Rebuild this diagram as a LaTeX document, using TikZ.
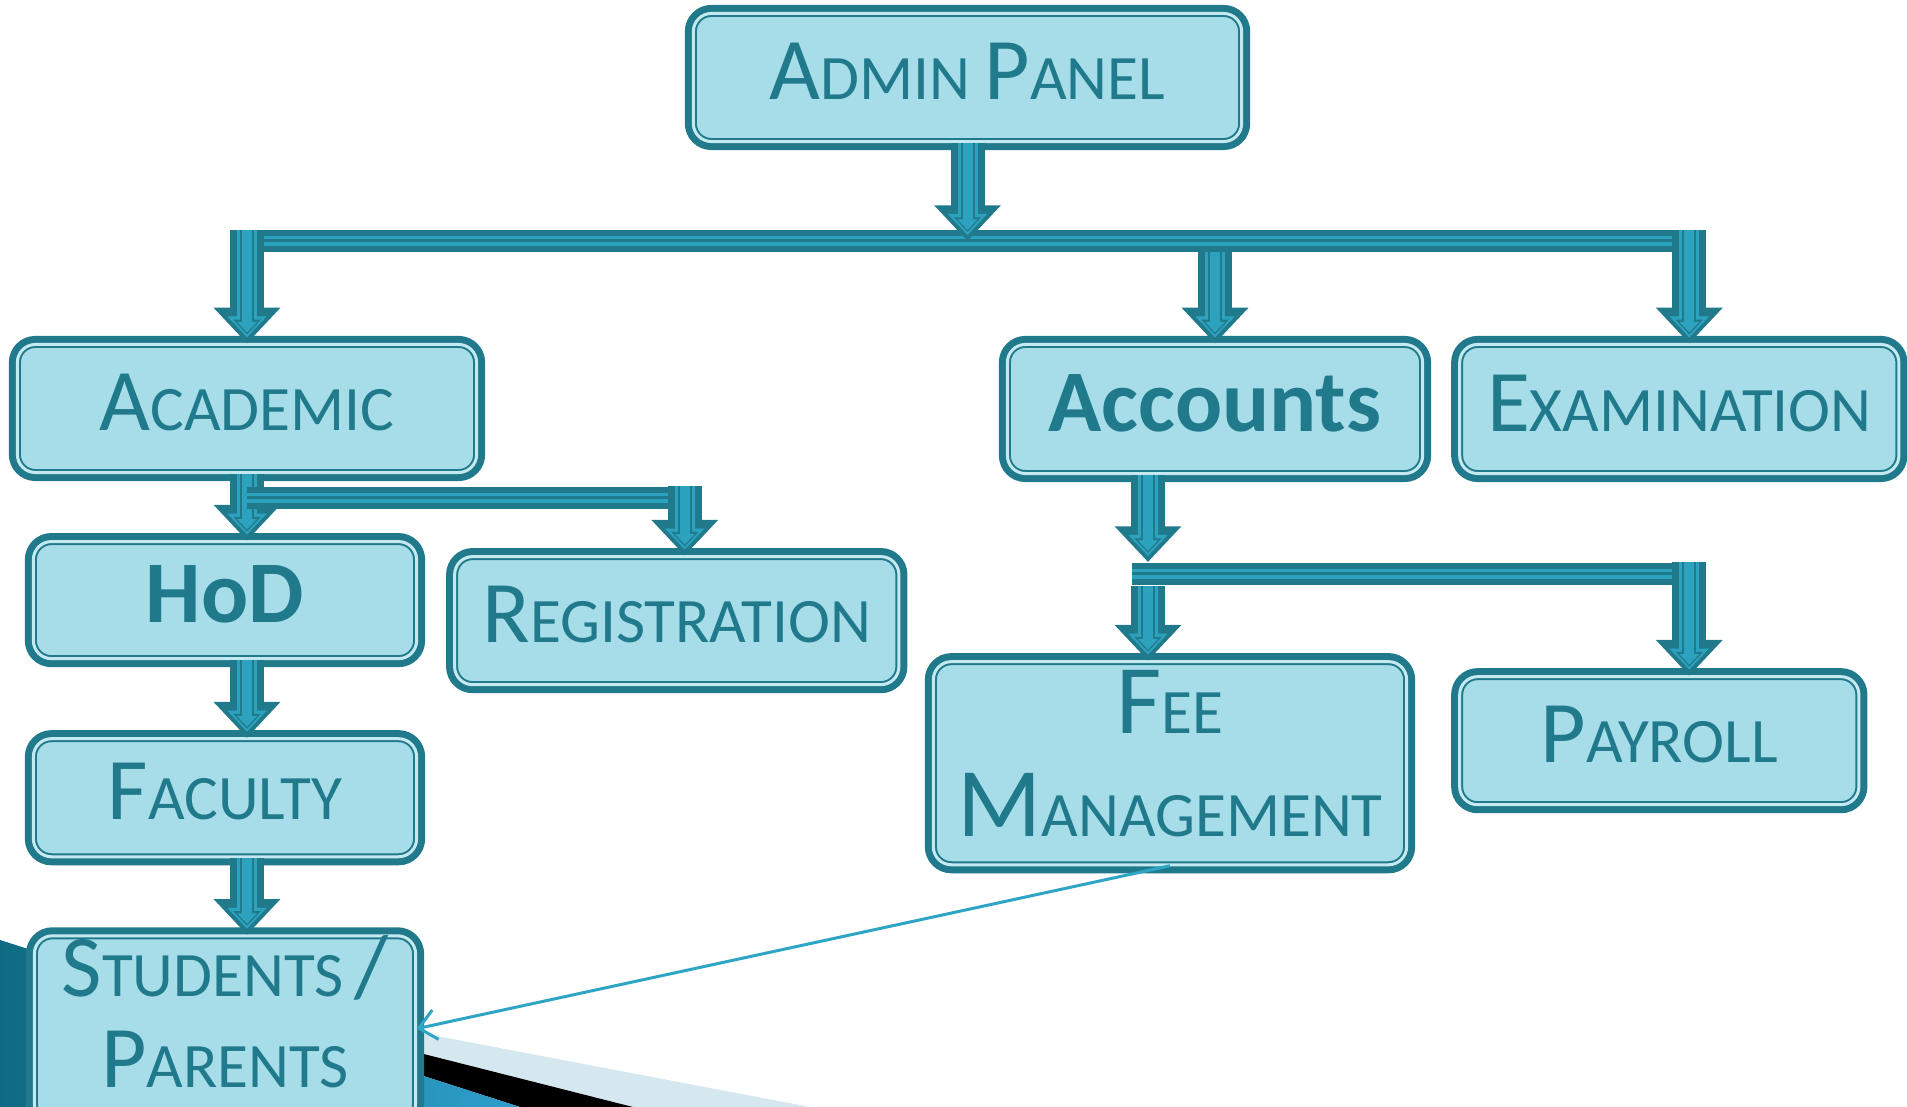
\documentclass[tikz,border=0pt]{standalone}
\usepackage{fontspec}
\setmainfont{Carlito}
\usetikzlibrary{arrows.meta, positioning, calc}

\definecolor{tealdark}{HTML}{217A8C}
\definecolor{tealmid}{HTML}{2DA2BF}
\definecolor{boxfill}{HTML}{A6DDE9}
\definecolor{boxline}{HTML}{C4E9F1}
\definecolor{linkblue}{HTML}{2FA5C6}
\definecolor{bandlight}{HTML}{D5E8F0}
\definecolor{wedgedark}{HTML}{0F6B83}
\definecolor{wedgelight}{HTML}{2E9FCB}

% big first letter, small capitals after it
\newcommand{\smcap}[3][25pt]{{\fontsize{#1}{#1}\selectfont #2}{\fontsize{18pt}{18pt}\selectfont #3}}

\begin{document}
\begin{tikzpicture}[
  x = 0.01cm, y = -0.01cm   % one unit = one pixel, y runs down
  ]

  \tikzstyle{box}=[      % Defines style for the boxes
  rectangle, rounded corners = 0.18cm,
  fill = boxfill,
  draw = tealdark, line width = 0.02cm,   % thin inner rim
  double = boxline, double distance = 0.03cm,
  preaction = {draw = tealdark, line width = 0.17cm},  % thick outer rim
  text = tealdark, inner sep = 0pt,
  text depth = 0.12cm,                    % lifts the text a little
  font = \fontsize{18pt}{18pt}\selectfont
  ]

  \tikzstyle{pipe}=[     % Defines style for the block arrows
  draw = tealdark, line width = 0.34cm,
  -{Triangle[length = 0pt 1.05, width = 0pt 1.9]},
  postaction = {draw = tealmid, line width = 0.2cm, shorten > = 0.06cm},
  postaction = {draw = tealdark, line width = 0.14cm, shorten > = 0.09cm},
  postaction = {draw = tealmid, line width = 0.1cm, shorten > = 0.11cm}
  ]

  \tikzstyle{bar}=[      % Defines style for the feeder bars
  draw = tealdark, line width = 0.22cm,
  postaction = {draw = tealmid, line width = 0.1cm},
  postaction = {draw = tealdark, line width = 0.03cm}
  ]

  \tikzstyle{link}=[     % thin arrow with open head
  draw = linkblue, line width = 0.03cm,
  -{Straight Barb[length = 0.17cm, width = 0.3cm]}
  ]

  \useasboundingbox (0, 0) rectangle (1907, 1107);

  % slide decoration in the lower left corner
  \fill[bandlight] (100, 972) -- (810, 1107) -- (633, 1107) -- cycle;
  \fill[black] (100, 972) -- (633, 1107) -- (520, 1107) -- cycle;
  \shade[left color = wedgedark, right color = wedgelight]
    (0, 940) -- (100, 972) -- (520, 1107) -- (0, 1107) -- cycle;

  % Definition of the nodes
  \node[box, minimum width = 5.48cm, minimum height = 1.28cm] (admin) at (967.5, 77.5) {\smcap{A}{DMIN} \smcap{P}{ANEL}};

  \node[box, minimum width = 4.59cm, minimum height = 1.28cm] (acad) at (247, 408.5) {\smcap{A}{CADEMIC}};
  \node[box, minimum width = 4.15cm, minimum height = 1.29cm] (acc) at (1215, 409) {\bfseries\fontsize{25pt}{25pt}\selectfont Accounts};
  \node[box, minimum width = 4.39cm, minimum height = 1.29cm] (exam) [right = 0.35cm of acc] {\smcap{E}{XAMINATION}};

  \node[box, minimum width = 3.83cm, minimum height = 1.17cm] (hod) [below = 0.67cm of acad, xshift = -0.22cm] {\bfseries\fontsize{25pt}{25pt}\selectfont HoD};
  \node[box, minimum width = 4.44cm, minimum height = 1.28cm] (reg) [right = 0.36cm of hod, yshift = -0.205cm] {\smcap{R}{EGISTRATION}};
  \node[box, minimum width = 3.83cm, minimum height = 1.18cm] (fac) [below = 0.78cm of hod] {\smcap{F}{ACULTY}};
  \node[box, minimum width = 3.81cm, minimum height = 1.71cm, align = center, text depth = 0.34cm,
        font = \fontsize{18pt}{25.8pt}\selectfont] (stud) [below = 0.77cm of fac]
        {\smcap{S}{TUDENTS}\,{\fontsize{25pt}{25pt}\selectfont /}\\\smcap{P}{ARENTS}};

  \node[box, minimum width = 4.73cm, minimum height = 2.03cm, align = center, text depth = 0.2cm,
        font = \fontsize{18pt}{29.3pt}\selectfont] (fee) [below = 1.86cm of acc, xshift = -0.45cm]
        {\smcap[28pt]{F}{EE}\\\smcap[28pt]{M}{ANAGEMENT}};
  \node[box, minimum width = 3.99cm, minimum height = 1.28cm] (pay) [right = 0.51cm of fee, yshift = 0.225cm] {\smcap{P}{AYROLL}};

  % where the bars run and the arrows come in
  \coordinate (topbar) at (0, 241);
  \coordinate (acadbar) at (0, 498);
  \coordinate (accbar) at (0, 574);
  \coordinate (examin) at ($(exam.north) + (10, 0)$);
  \coordinate (regin) at ($(reg.north) + (8, 0)$);
  \coordinate (feein) at ($(fee.north) + (-22, 0)$);
  \coordinate (payin) at ($(pay.north) + (30, 0)$);

  % Admin panel to the three departments
  \draw[pipe] (acc.north |- topbar) -- (acc.north);
  \draw[bar] (acad.north |- topbar) -- (examin |- topbar);
  \draw[pipe] ($(acad.north |- topbar) + (0, -11)$) -- (acad.north);
  \draw[pipe] ($(examin |- topbar) + (0, -11)$) -- (examin);
  \draw[pipe] (admin.south) -- (admin.south |- topbar);

  % Academic branch
  \draw[pipe] (acad.south) -- (acad.south |- hod.north);
  \draw[bar] (acad.south |- acadbar) -- (regin |- acadbar);
  \draw[pipe] ($(regin |- acadbar) + (0, -12)$) -- (regin);
  \draw[pipe] (hod.south -| acad.south) -- (fac.north -| acad.south);
  \draw[pipe] (fac.south -| acad.south) -- (stud.north -| acad.south);

  % Accounts branch
  \draw[pipe] (acc.south -| feein) -- ($(feein |- accbar) + (0, -12)$);
  \draw[bar] ($(feein |- accbar) + (-16, 0)$) -- (payin |- accbar);
  \draw[pipe] ($(feein |- accbar) + (0, 12)$) -- (feein);
  \draw[pipe] ($(payin |- accbar) + (0, -12)$) -- (payin);

  % fee management back to students
  \draw[link] (fee.south) -- (stud.east);
\end{tikzpicture}
\end{document}
